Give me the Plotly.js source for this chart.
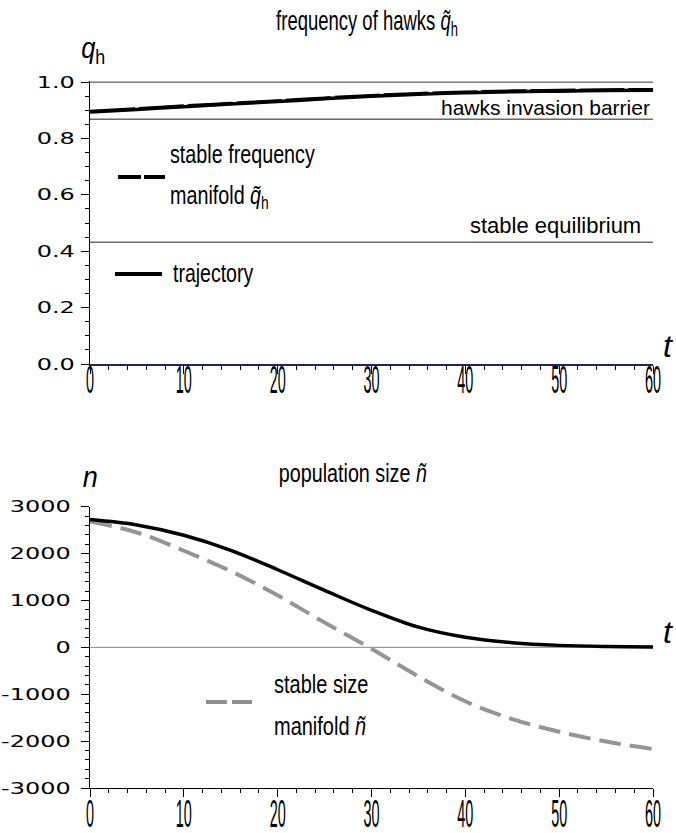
<!DOCTYPE html>
<html>
<head>
<meta charset="utf-8">
<script src="https://cdn.plot.ly/plotly-3.0.1.min.js"></script>
<style>html,body{margin:0;padding:0;background:#fff}</style>
</head>
<body>
<div id="chart" style="width:676px;height:833px"></div>
<script>
// ---- data ----
const tVals = [0, 5, 10, 15, 20, 25, 30, 35, 40, 45, 50, 55, 60];
const qTrajectory = [0.894, 0.903, 0.913, 0.922, 0.931, 0.941, 0.950, 0.957, 0.962, 0.966, 0.968, 0.970, 0.971];
const qManifold   = [0.897, 0.906, 0.916, 0.925, 0.934, 0.944, 0.953, 0.960, 0.965, 0.969, 0.971, 0.973, 0.974];
const qLevelNames = ['hawks only', 'hawks invasion barrier', 'stable equilibrium'];
const qLevels = [1.0, 0.868, 0.432];
const nTrajectory = [2725, 2610, 2390, 2070, 1655, 1215, 790, 430, 215, 100, 42, 17, 8];
const nManifold   = [2685, 2450, 2060, 1625, 1110, 528, -30, -620, -1150, -1530, -1800, -2010, -2170];
const nLevel = 0;
const tRange = [0, 60];
const tTicks = [0, 10, 20, 30, 40, 50, 60];
const tTickLabels = ['0', '10', '20', '30', '40', '50', '60'];
const qTicks = [0, 0.2, 0.4, 0.6, 0.8, 1.0];
const qTickLabels = ['0.0', '0.2', '0.4', '0.6', '0.8', '1.0'];
const nTicks = [-3000, -2000, -1000, 0, 1000, 2000, 3000];
const nTickLabels = ['-3000', '-2000', '-1000', '0', '1000', '2000', '3000'];

// ---- traces ----
const levelStyles = [
  {color: '#333333', width: 1},
  {color: '#6a6a6a', width: 1.5},
  {color: '#6a6a6a', width: 1.5}
];
const traces = [];
qLevels.forEach((lv, i) => {
  traces.push({x: tRange, y: [lv, lv], name: qLevelNames[i], mode: 'lines',
    line: levelStyles[i], xaxis: 'x', yaxis: 'y', hoverinfo: 'skip'});
});
traces.push({x: tVals, y: qTrajectory, name: 'trajectory', mode: 'lines',
  line: {color: '#000', width: 3.5, shape: 'spline'}, xaxis: 'x', yaxis: 'y'});
traces.push({x: tVals, y: qManifold, name: 'stable frequency manifold', mode: 'lines',
  line: {color: '#000', width: 3, dash: '45px,4px', shape: 'spline'}, xaxis: 'x', yaxis: 'y'});

traces.push({x: tRange, y: [nLevel, nLevel], name: 'n = 0', mode: 'lines',
  line: {color: '#8a8a8a', width: 1}, xaxis: 'x2', yaxis: 'y2', hoverinfo: 'skip'});
traces.push({x: tVals, y: nManifold, name: 'stable size manifold', mode: 'lines',
  line: {color: '#959595', width: 4, dash: '22px,9px', shape: 'spline'}, xaxis: 'x2', yaxis: 'y2'});
traces.push({x: tVals, y: nTrajectory, name: 'trajectory', mode: 'lines',
  line: {color: '#000', width: 3.5, shape: 'spline'}, xaxis: 'x2', yaxis: 'y2'});

// ---- layout ----
const SANS = 'Liberation Sans, Arial, sans-serif';
const WIDE = 'DejaVu Sans, Verdana, sans-serif';
const xTickFont = {family: SANS, size: 38, color: '#000'};
const yTickFont = {family: WIDE, size: 16, color: '#000'};

function xAxis(anchor, linecolor, lw, standoff) {
  return {
    anchor: anchor, domain: [0, 1], range: tRange,
    tickmode: 'array', tickvals: tTicks, ticktext: tTickLabels,
    ticks: 'outside', ticklen: 8, tickwidth: 1, tickcolor: '#000',
    minor: {tickmode: 'linear', tick0: 0, dtick: 2, ticks: 'outside', ticklen: 4, tickcolor: '#000', showgrid: false},
    showline: true, linecolor: linecolor, linewidth: lw,
    showgrid: false, zeroline: false, tickfont: xTickFont,
    ticklabelstandoff: standoff, fixedrange: true
  };
}

function ann(text, x, y, xanchor, size) {
  return {text: text, xref: 'paper', yref: 'paper', x: x, y: y, xanchor: xanchor, yanchor: 'middle',
    align: xanchor === 'center' ? 'center' : xanchor, showarrow: false,
    font: {family: SANS, size: size, color: '#000'}};
}

const annotations = [
  ann('<i>q</i><sub>h</sub>', 0.006, 1.045, 'center', 30),
  ann('<i>t</i>', 1.027, 0.625, 'center', 32),
  ann('hawks invasion barrier', 0.998, 0.9625, 'right', 21),
  ann('stable equilibrium', 0.982, 0.7956, 'right', 22),
  ann('stable frequency', 0.1385, 0.8967, 'left', 25),
  ann('manifold <i>q\u0303</i><sub>h</sub>', 0.1385, 0.836, 'left', 25),
  ann('trajectory', 0.1439, 0.7284, 'left', 25),
  ann('population size <i>\u00f1</i>', (353 - 90) / 563, (788 - 472.5) / 707, 'center', 25),
  ann('<i>n</i>', 0.0, 0.4406, 'center', 30),
  ann('<i>t</i>', 1.027, 0.22, 'center', 32),
  ann('stable size', 0.3233, 0.1471, 'left', 25),
  ann('manifold <i>\u00f1</i>', 0.3233, 0.0877, 'left', 25)
];
// horizontal compression of each annotation's glyphs (the reference uses a condensed face)
const annSqueeze = [0.85, 1, 1, 1, 0.79, 0.79, 0.78, 0.79, 0.9, 1, 0.8, 0.8];

const layout = {
  width: 676, height: 833,
  margin: {l: 90, r: 23, t: 81, b: 45},
  paper_bgcolor: '#fff', plot_bgcolor: '#fff',
  showlegend: false,
  font: {family: SANS, color: '#000'},
  title: {text: 'frequency of hawks <i>q\u0303</i><sub>h</sub>', font: {family: SANS, size: 28, color: '#000'},
          x: 367 / 676, xanchor: 'center', xref: 'container', y: 0.987, yanchor: 'top', yref: 'container'},
  xaxis: xAxis('y', '#22226e', 2, -27),
  yaxis: {
    anchor: 'x', domain: [0.5997, 1], range: [0, 1.004],
    tickmode: 'array', tickvals: qTicks, ticktext: qTickLabels,
    ticks: 'outside', ticklen: 8, tickwidth: 1, tickcolor: '#000',
    minor: {tickmode: 'linear', tick0: 0, dtick: 0.05, ticks: 'outside', ticklen: 4, tickcolor: '#000', showgrid: false},
    showline: true, linecolor: '#000', linewidth: 1,
    showgrid: false, zeroline: false, tickfont: yTickFont, ticklabelstandoff: 3, fixedrange: true
  },
  xaxis2: xAxis('y2', '#000', 1, -16),
  yaxis2: {
    anchor: 'x2', domain: [0, 0.3979], range: [-3000, 3000],
    tickmode: 'array', tickvals: nTicks, ticktext: nTickLabels,
    ticks: 'outside', ticklen: 8, tickwidth: 1, tickcolor: '#000',
    minor: {tickmode: 'linear', tick0: 0, dtick: 200, ticks: 'outside', ticklen: 4, tickcolor: '#000', showgrid: false},
    showline: true, linecolor: '#000', linewidth: 1,
    showgrid: false, zeroline: false, tickfont: yTickFont, ticklabelstandoff: 7, fixedrange: true
  },
  annotations: annotations,
  shapes: [
    {type: 'line', xref: 'paper', yref: 'paper', x0: 0.0497, x1: 0.1332, y0: 0.8642, y1: 0.8642,
     line: {color: '#000', width: 4, dash: '23px,3px'}},
    {type: 'line', xref: 'paper', yref: 'paper', x0: 0.0444, x1: 0.1279, y0: 0.727, y1: 0.727,
     line: {color: '#000', width: 4}},
    {type: 'line', xref: 'paper', yref: 'paper', x0: 0.206, x1: 0.2877, y0: 0.1216, y1: 0.1216,
     line: {color: '#8f8f8f', width: 4, dash: '21px,5px'}}
  ]
};

function squeezeEl(t, s) {
  if (s === 1) return;
  const tr = t.getAttribute('transform') || '';
  const x = parseFloat(t.getAttribute('x')) || 0;
  t.setAttribute('transform', tr + ' translate(' + x + ',0) scale(' + s + ',1) translate(' + (-x) + ',0)');
}
function squeeze(selector, s) {
  document.querySelectorAll(selector).forEach(t => squeezeEl(t, s));
}

Plotly.newPlot('chart', traces, layout, {displayModeBar: false, staticPlot: true}).then(() => {
  squeeze('#chart .xtick text, #chart .x2tick text', 0.38);
  squeeze('#chart .ytick text, #chart .y2tick text', 1.5);
  squeeze('#chart .gtitle', 0.66);
  document.querySelectorAll('#chart .annotation').forEach(g => {
    const i = parseInt(g.getAttribute('data-index'), 10);
    const t = g.querySelector('text.annotation-text');
    if (t && !isNaN(i)) squeezeEl(t, annSqueeze[i]);
  });
});
</script>
</body>
</html>
